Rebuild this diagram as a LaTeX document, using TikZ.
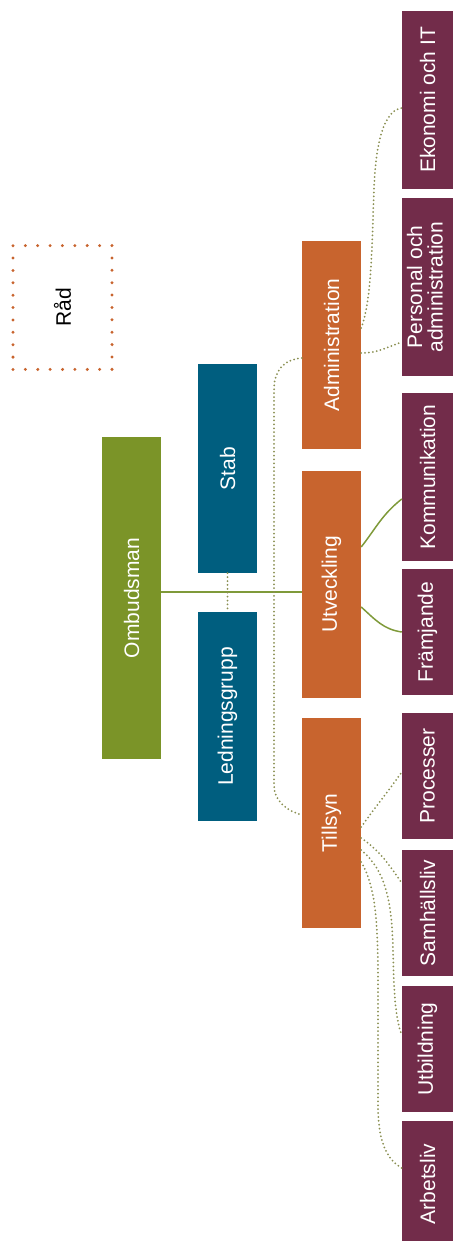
\documentclass[tikz,border=0pt]{standalone}
\usepackage{fontspec}
\setmainfont{Liberation Sans}
\usepackage{tikz}

\definecolor{ombgreen}{HTML}{7B9428}
\definecolor{stabblue}{HTML}{005E7F}
\definecolor{avdorange}{HTML}{C8642E}
\definecolor{enhetpurple}{HTML}{722C4A}
\definecolor{dotolive}{HTML}{8A8F52}
\definecolor{linegreen}{HTML}{7F9A3A}

\newcommand{\vtext}[1]{\rotatebox{90}{#1}}

\tikzset{
  orgbox/.style={fill=#1, text=white, inner sep=0pt,
    font=\fontsize{21}{18}\selectfont},
  ledning/.style={orgbox=stabblue, minimum width=59pt},
  avdelning/.style={orgbox=avdorange, minimum width=59pt},
  enhet/.style={orgbox=enhetpurple, minimum width=51pt, minimum height=126pt},
  radbox/.style={draw=avdorange, line width=3.3pt, dash pattern=on 0pt off 12.38pt,
    line cap=round, inner sep=0pt, font=\fontsize{21}{18}\selectfont,
    minimum width=99pt, minimum height=123.8pt},
  dotlink/.style={draw=dotolive, line width=2pt, dash pattern=on 0pt off 3.9pt,
    line cap=round},
  solidlink/.style={draw=linegreen, line width=1.5pt},
}

\begin{document}
\begin{tikzpicture}[x=1pt, y=-1pt]
    \useasboundingbox (0,0) rectangle (453,1241);

    \node[radbox] (rad) at (62.5,307.5) {\vtext{Råd}};
    \node[orgbox=ombgreen, minimum width=59pt, minimum height=322pt] (omb) at (131.5,598) {\vtext{Ombudsman}};

    \node[ledning, minimum height=209pt] (stab) at (227.5,468.5) {\vtext{Stab}};
    \node[ledning, minimum height=209pt] (led) at (227.5,716.5) {\vtext{Ledningsgrupp}};

    \node[avdelning, minimum height=208pt] (adm) at (331.5,345) {\vtext{Administration}};
    \node[avdelning, minimum height=227pt] (utv) at (331.5,584.5) {\vtext{Utveckling}};
    \node[avdelning, minimum height=210pt] (til) at (331.5,823) {\vtext{Tillsyn}};

    \node[enhet, minimum height=178pt] (eko) at (427.5,100) {\vtext{Ekonomi och IT}};
    \node[enhet, minimum height=178pt] (per) at (427.5,287) {\vtext{\begin{tabular}{@{}c@{}}Personal och\\administration\end{tabular}}};
    \node[enhet, minimum height=168pt] (kom) at (427.5,477) {\vtext{Kommunikation}};
    \node[enhet] (fra) at (427.5,632) {\vtext{Främjande}};
    \node[enhet] (pro) at (427.5,776) {\vtext{Processer}};
    \node[enhet] (sam) at (427.5,913) {\vtext{Samhällsliv}};
    \node[enhet] (utb) at (427.5,1049) {\vtext{Utbildning}};
    \node[enhet] (arb) at (427.5,1184) {\vtext{Arbetsliv}};

    % ombudsman till utveckling
    \coordinate (ombout) at ([yshift=6pt]omb.east);
    \draw[solidlink] (ombout) -- (ombout -| utv.west);
    \draw[dotlink] (stab.south) -- (led.north);

    % administration
    \draw[dotlink] ([yshift=-13pt]adm.west) .. controls (282,360) and (274,372) .. (274,390)
        -- (274,785) .. controls (274,800) and (285,810) .. ([yshift=8pt]til.west);
    \draw[dotlink] ([yshift=17pt]adm.east) .. controls (372,300) and (372,240) .. (374,190)
        .. controls (376,130) and (388,110) .. ([yshift=-8pt]eko.west);
    \draw[dotlink] ([yshift=-8pt]adm.east) to[out=0,in=200] ([yshift=-55pt]per.west);

    % utveckling
    \draw[solidlink] ([yshift=37.5pt]utv.east) to[out=52,in=218] ([yshift=-22pt]kom.west);
    \draw[solidlink] ([yshift=-22.5pt]utv.east) to[out=-42,in=172] (fra.west);

    % tillsyn
    \draw[dotlink] ([yshift=-4pt]til.east) to[out=55,in=235] ([yshift=4pt]pro.west);
    \draw[dotlink] ([yshift=-15pt]til.east) to[out=-35,in=125] ([yshift=30pt]sam.west);
    \draw[dotlink] ([yshift=-27pt]til.east) .. controls (385,870) and (392,900) .. (393,950)
        .. controls (394,1000) and (396,1020) .. ([yshift=14pt]utb.west);
    \draw[dotlink] ([yshift=-39pt]til.east) .. controls (375,885) and (378,920) .. (378,980)
        -- (378,1110) .. controls (379,1145) and (388,1160) .. ([yshift=16pt]arb.west);
\end{tikzpicture}
\end{document}
